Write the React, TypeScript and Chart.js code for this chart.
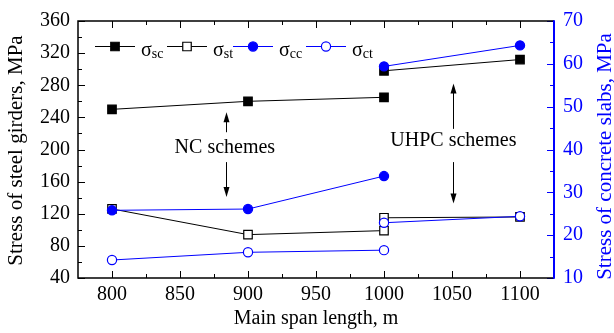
import React, { useEffect, useRef } from 'react';
import { Chart, registerables } from 'chart.js';

Chart.register(...registerables);

// ---- data ----
const ncSpans = [800, 900, 1000];
const uhpcSpans = [1000, 1100];
const sigmaScNC = [250, 260, 265];
const sigmaScUHPC = [298, 312];
const sigmaStNC = [126, 94, 99];
const sigmaStUHPC = [115, 116];
const sigmaCcNC = [25.8, 26.1, 33.8];
const sigmaCcUHPC = [59.4, 64.3];
const sigmaCtNC = [14.2, 16, 16.5];
const sigmaCtUHPC = [22.9, 24.4];

const xMajorTicks = [800, 850, 900, 950, 1000, 1050, 1100];
const xMinorTicks = [825, 875, 925, 975, 1025, 1075];
const yMajorTicks = [40, 80, 120, 160, 200, 240, 280, 320, 360];
const yMinorTicks = [60, 100, 140, 180, 220, 260, 300, 340];
const y1MajorTicks = [10, 20, 30, 40, 50, 60, 70];
const y1MinorTicks = [15, 25, 35, 45, 55, 65];

const legendSymbol = 'σ';
const legendSubs = ['sc', 'st', 'cc', 'ct'];
const xTitle = 'Main span length, m';
const yTitle = 'Stress of steel girders, MPa';
const y1Title = 'Stress of concrete slabs, MPa';
const ncLabel = 'NC schemes';
const uhpcLabel = 'UHPC schemes';

const FONT = '"Liberation Serif", "Times New Roman", serif';
const BLUE = '#0000ff';

const pts = (xs: number[], ys: number[]) => xs.map((x, i) => ({ x, y: ys[i] }));

type Sty = { color: string; style: 'rect' | 'circle'; fill: string; axis: string; order: number };
const styles: Sty[] = [
  { color: '#000', style: 'rect', fill: '#000', axis: 'y', order: 2 },
  { color: '#000', style: 'rect', fill: '#fff', axis: 'y', order: 2 },
  { color: BLUE, style: 'circle', fill: BLUE, axis: 'y1', order: 1 },
  { color: BLUE, style: 'circle', fill: '#fff', axis: 'y1', order: 0 },
];

const mk = (data: { x: number; y: number }[], s: Sty) => ({
  data,
  yAxisID: s.axis,
  order: s.order,
  borderColor: s.color,
  borderWidth: 1,
  backgroundColor: s.fill,
  pointStyle: s.style,
  pointRadius: s.style === 'rect' ? 6 : 4.6,
  pointHoverRadius: s.style === 'rect' ? 6 : 4.6,
  pointBorderWidth: 1.2,
  pointBorderColor: s.color,
  pointBackgroundColor: s.fill,
  showLine: true,
  fill: false,
  tension: 0,
  clip: false as any,
});

const drawArrow = (ctx: CanvasRenderingContext2D, x: number, y0: number, y1: number) => {
  const dir = y1 < y0 ? -1 : 1;
  ctx.beginPath();
  ctx.moveTo(x, y0);
  ctx.lineTo(x, y1 - dir * 8);
  ctx.stroke();
  ctx.beginPath();
  ctx.moveTo(x, y1);
  ctx.lineTo(x - 3, y1 - dir * 10);
  ctx.lineTo(x + 3, y1 - dir * 10);
  ctx.closePath();
  ctx.fill();
};

const overlay = {
  id: 'overlay',
  afterDraw(chart: any) {
    const { ctx, chartArea: a, scales } = chart;
    const sx = scales.x, sy = scales.y, sy1 = scales.y1;
    ctx.save();

    // tick marks (inward)
    ctx.lineWidth = 1;
    ctx.strokeStyle = '#000';
    const vt = (vals: number[], len: number) => {
      vals.forEach((v) => {
        const px = Math.round(sx.getPixelForValue(v)) + 0.5;
        ctx.beginPath();
        ctx.moveTo(px, a.bottom);
        ctx.lineTo(px, a.bottom - len);
        ctx.moveTo(px, a.top);
        ctx.lineTo(px, a.top + len);
        ctx.stroke();
      });
    };
    vt(xMajorTicks, 7);
    vt(xMinorTicks, 4);
    const ht = (vals: number[], len: number) => {
      vals.forEach((v) => {
        const py = Math.round(sy.getPixelForValue(v)) + 0.5;
        ctx.beginPath();
        ctx.moveTo(a.left, py);
        ctx.lineTo(a.left + len, py);
        ctx.stroke();
      });
    };
    ht(yMajorTicks, 7);
    ht(yMinorTicks, 4);
    ctx.strokeStyle = BLUE;
    const rt = (vals: number[], len: number) => {
      vals.forEach((v) => {
        const py = Math.round(sy1.getPixelForValue(v)) + 0.5;
        ctx.beginPath();
        ctx.moveTo(a.right, py);
        ctx.lineTo(a.right - len, py);
        ctx.stroke();
      });
    };
    rt(y1MajorTicks, 7);
    rt(y1MinorTicks, 4);

    // frame
    ctx.strokeStyle = '#000';
    ctx.lineWidth = 1.5;
    ctx.beginPath();
    ctx.moveTo(a.right, a.top);
    ctx.lineTo(a.left, a.top);
    ctx.lineTo(a.left, a.bottom);
    ctx.lineTo(a.right, a.bottom);
    ctx.stroke();
    ctx.strokeStyle = BLUE;
    ctx.lineWidth = 2;
    ctx.beginPath();
    ctx.moveTo(a.right, a.top - 0.75);
    ctx.lineTo(a.right, a.bottom + 0.75);
    ctx.stroke();

    // axis titles
    ctx.font = `20px ${FONT}`;
    ctx.textAlign = 'center';
    ctx.textBaseline = 'middle';
    ctx.fillStyle = '#000';
    ctx.fillText(xTitle, (a.left + a.right) / 2, 319);
    ctx.save();
    ctx.translate(16, (a.top + a.bottom) / 2 + 1);
    ctx.rotate(-Math.PI / 2);
    ctx.font = `21px ${FONT}`;
    ctx.fillText(yTitle, 0, 0);
    ctx.restore();
    ctx.save();
    ctx.translate(605, (a.top + a.bottom) / 2 + 7);
    ctx.rotate(-Math.PI / 2);
    ctx.fillStyle = BLUE;
    ctx.font = `21px ${FONT}`;
    ctx.fillText(y1Title, 0, 0);
    ctx.restore();

    // annotations
    ctx.fillStyle = '#000';
    ctx.strokeStyle = '#000';
    ctx.lineWidth = 1;
    ctx.font = `20px ${FONT}`;
    const ncX = sx.getPixelForValue(884);
    ctx.fillText(ncLabel, sx.getPixelForValue(883), sy.getPixelForValue(202));
    drawArrow(ctx, Math.round(ncX) + 0.5, sy.getPixelForValue(221.5), sy.getPixelForValue(246.3));
    drawArrow(ctx, Math.round(ncX) + 0.5, sy.getPixelForValue(184.3), sy.getPixelForValue(140.8));
    const uX = sx.getPixelForValue(1051);
    ctx.fillText(uhpcLabel, sx.getPixelForValue(1051), sy.getPixelForValue(211.2));
    drawArrow(ctx, Math.round(uX) + 0.5, sy.getPixelForValue(225.7), sy.getPixelForValue(282.2));
    drawArrow(ctx, Math.round(uX) + 0.5, sy.getPixelForValue(184.3), sy.getPixelForValue(132.7));

    // legend
    const starts = [17, 89, 155, 228];
    const ly = a.top + 25;
    styles.forEach((s, i) => {
      const lx = a.left + starts[i];
      ctx.strokeStyle = s.color;
      ctx.lineWidth = 1;
      ctx.beginPath();
      ctx.moveTo(lx, ly + 0.5);
      ctx.lineTo(lx + 40, ly + 0.5);
      ctx.stroke();
      const mx = lx + 20;
      ctx.fillStyle = s.fill;
      ctx.lineWidth = 1.2;
      ctx.beginPath();
      if (s.style === 'rect') {
        ctx.rect(mx - 4.25, ly + 0.5 - 4.25, 8.5, 8.5);
      } else {
        ctx.arc(mx, ly + 0.5, 4.6, 0, Math.PI * 2);
      }
      ctx.fill();
      ctx.stroke();
      ctx.fillStyle = '#000';
      ctx.textAlign = 'left';
      ctx.textBaseline = 'alphabetic';
      ctx.font = `20px ${FONT}`;
      const tx = lx + 46;
      ctx.fillText(legendSymbol, tx, ly + 10);
      const w = ctx.measureText(legendSymbol).width;
      ctx.font = `14px ${FONT}`;
      ctx.fillText(legendSubs[i], tx + w, ly + 12);
    });

    ctx.restore();
  },
};

export default function App() {
  const ref = useRef<HTMLCanvasElement | null>(null);
  useEffect(() => {
    if (!ref.current) return;
    const datasets = [
      mk(pts(ncSpans, sigmaScNC), styles[0]),
      mk(pts(uhpcSpans, sigmaScUHPC), styles[0]),
      mk(pts(ncSpans, sigmaStNC), styles[1]),
      mk(pts(uhpcSpans, sigmaStUHPC), styles[1]),
      mk(pts(ncSpans, sigmaCcNC), styles[2]),
      mk(pts(uhpcSpans, sigmaCcUHPC), styles[2]),
      mk(pts(ncSpans, sigmaCtNC), styles[3]),
      mk(pts(uhpcSpans, sigmaCtUHPC), styles[3]),
    ];
    const tickFont = { family: FONT, size: 20 };
    const plain = (v: any) => String(v);
    const chart = new Chart(ref.current, {
      type: 'scatter',
      data: { datasets: datasets as any },
      options: {
        animation: false,
        responsive: false,
        devicePixelRatio: 1,
        layout: { padding: { top: 20, left: 0, right: 0, bottom: 0 } },
        plugins: { legend: { display: false }, tooltip: { enabled: false } },
        scales: {
          x: {
            type: 'linear',
            position: 'bottom',
            min: 775,
            max: 1125,
            grid: { display: false, drawTicks: false },
            border: { display: false },
            ticks: { font: tickFont, color: '#000', padding: 5, maxRotation: 0, callback: plain },
            afterBuildTicks: (s: any) => { s.ticks = xMajorTicks.map((v) => ({ value: v })); },
            afterFit: (s: any) => { s.height = 55; },
          },
          y: {
            type: 'linear',
            position: 'left',
            min: 40,
            max: 360,
            grid: { display: false, drawTicks: false },
            border: { display: false },
            ticks: { font: tickFont, color: '#000', padding: 8, callback: plain },
            afterBuildTicks: (s: any) => { s.ticks = yMajorTicks.map((v) => ({ value: v })); },
            afterFit: (s: any) => { s.width = 78; },
          },
          y1: {
            type: 'linear',
            position: 'right',
            min: 10,
            max: 70,
            grid: { display: false, drawTicks: false },
            border: { display: false },
            ticks: { font: tickFont, color: BLUE, padding: 9, callback: plain },
            afterBuildTicks: (s: any) => { s.ticks = y1MajorTicks.map((v) => ({ value: v })); },
            afterFit: (s: any) => { s.width = 60; },
          },
        },
      } as any,
      plugins: [overlay],
    });
    return () => chart.destroy();
  }, []);
  return (
    <canvas
      ref={ref}
      width={614}
      height={333}
      style={{ position: 'absolute', left: 0, top: 0, width: 614, height: 333, display: 'block', background: '#fff' }}
    />
  );
}
